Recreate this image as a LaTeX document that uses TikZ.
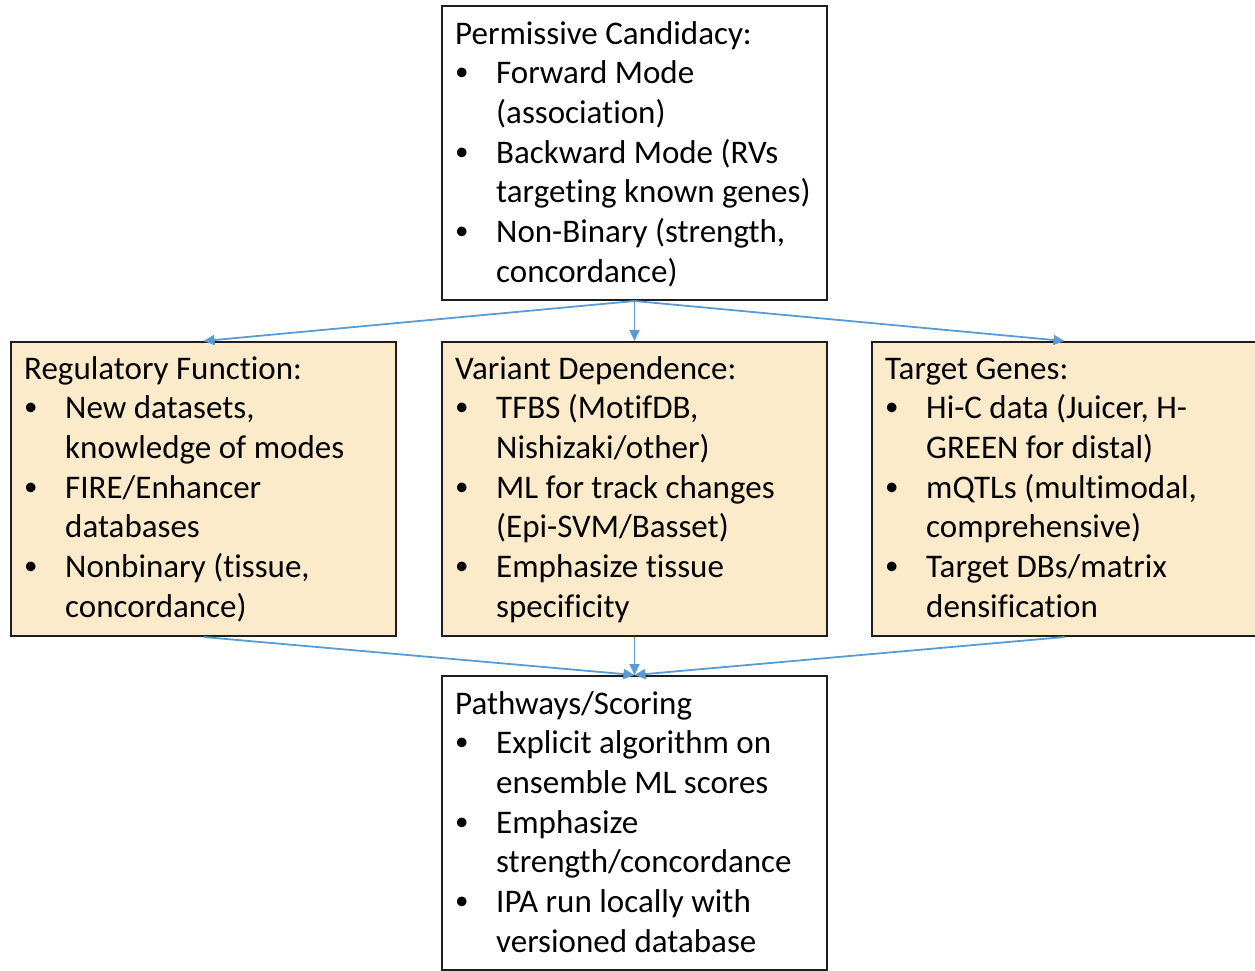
\documentclass[tikz,border=0pt]{standalone}
\usepackage{fontspec}
\setmainfont{Carlito}[Ligatures=NoCommon]
\usetikzlibrary{arrows.meta}
\definecolor{boxfill}{RGB}{252,235,202}
\definecolor{linkblue}{RGB}{91,155,213}
\definecolor{edge}{RGB}{30,30,30}
\newcommand{\bitem}{\makebox[41pt][l]{\raisebox{3pt}{\fontsize{27}{27}\selectfont\textbullet}}}
\newcommand{\bcont}{\hspace*{41pt}}
\newcommand{\boxtext}[1]{\parbox[t]{380pt}{\fontsize{33}{39.7}\selectfont #1}}
\tikzset{
  panel/.style={draw=edge, line width=2pt, minimum width=385pt, minimum height=294pt, anchor=north west, inner sep=0pt},
  shaded/.style={panel, fill=boxfill},
  plain/.style={panel, fill=white},
  label/.style={anchor=base west, inner sep=0pt},
  link/.style={draw=linkblue, line width=1.8pt, -{Triangle[length=11pt,width=10pt]}}
}
\begin{document}
\begin{tikzpicture}[x=1pt,y=-1pt]
\useasboundingbox (0,0) rectangle (1255,970);
\begin{scope}
\clip (0,0) rectangle (1255,970);
% boxes
\node[plain]  (top)    at (441,5)   {};
\node[shaded] (reg)    at (10,341)  {};
\node[shaded] (var)    at (441,341) {};
\node[shaded] (tgt)    at (871,341) {};
\node[plain]  (path)   at (441,675) {};
\end{scope}
% box contents
\node[label] (ttop) at (455,44) {\boxtext{Permissive Candidacy:\\
\bitem Forward Mode\\
\bcont (association)\\
\bitem Backward Mode (RVs\\
\bcont targeting known genes)\\
\bitem Non-Binary (strength,\\
\bcont concordance)}};
\node[label] (treg) at (24,379) {\boxtext{Regulatory Function:\\
\bitem New datasets,\\
\bcont knowledge of modes\\
\bitem FIRE/Enhancer\\
\bcont databases\\
\bitem Nonbinary (tissue,\\
\bcont concordance)}};
\node[label] (tvar) at (455,379) {\boxtext{Variant Dependence:\\
\bitem TFBS (MotifDB,\\
\bcont Nishizaki/other)\\
\bitem ML for track changes\\
\bcont (Epi-SVM/Basset)\\
\bitem Emphasize tissue\\
\bcont specificity}};
\node[label] (ttgt) at (885,379) {\boxtext{Target Genes:\\
\bitem Hi-C data (Juicer, H-\\
\bcont GREEN for distal)\\
\bitem mQTLs (multimodal,\\
\bcont comprehensive)\\
\bitem Target DBs/matrix\\
\bcont densification}};
\node[label] (tpath) at (455,714) {\boxtext{Pathways/Scoring\\
\bitem Explicit algorithm on\\
\bcont ensemble ML scores\\
\bitem Emphasize\\
\bcont strength/concordance\\
\bitem IPA run locally with\\
\bcont versioned database}};
% connectors
\draw[link] (top.south) -- (reg.north);
\draw[link] (top.south) -- (var.north);
\draw[link] (top.south) -- (tgt.north);
\draw[link] (reg.south) -- (path.north);
\draw[link] (var.south) -- (path.north);
\draw[link] (tgt.south) -- (path.north);
\end{tikzpicture}
\end{document}
